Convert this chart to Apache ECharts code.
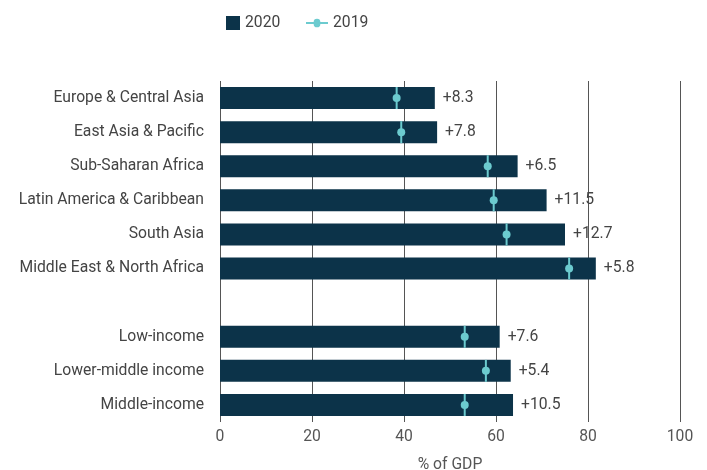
<!DOCTYPE html>
<html>
<head>
<meta charset="utf-8">
<script src="https://cdn.jsdelivr.net/npm/echarts@6/dist/echarts.min.js"></script>
<style>
  html, body { margin: 0; padding: 0; background: #fff; }
  #main { width: 707px; height: 470px; }
</style>
</head>
<body>
<div id="main"></div>
<script>
// 数据
var categories = ['Europe & Central Asia', 'East Asia & Pacific', 'Sub-Saharan Africa', 'Latin America & Caribbean',
    'South Asia', 'Middle East & North Africa', '', 'Low-income', 'Lower-middle income', 'Middle-income'];
var values2020 = [46.7, 47.2, 64.7, 71.0, 75.0, 81.7, null, 60.8, 63.2, 63.7];
var values2019 = [38.4, 39.4, 58.2, 59.5, 62.3, 75.9, null, 53.2, 57.8, 53.2];
var changes = ['+8.3', '+7.8', '+6.5', '+11.5', '+12.7', '+5.8', '', '+7.6', '+5.4', '+10.5'];
var xTicks = [0, 20, 40, 60, 80, 100];

var navy = '#0c3349';
var teal = '#6ccbcf';
var font = 'Roboto';
var fs = 15.7;

var chart = echarts.init(document.getElementById('main'));

var bar2020 = [];
var dots2019 = [];
for (var i = 0; i < values2020.length; i++) {
    bar2020.push(values2020[i] == null ? '-' : values2020[i]);
    if (values2019[i] != null) dots2019.push([values2019[i], i]);
}

chart.setOption({
    animation: false,
    textStyle: { fontFamily: font },
    legend: [{
        left: 221,
        top: 10,
        itemWidth: 14,
        itemHeight: 14,
        textStyle: { fontSize: fs, color: '#444', fontFamily: font },
        data: [{ name: '2020', icon: 'rect' }]
    }, {
        left: 301,
        top: 10,
        itemWidth: 22,
        itemHeight: 14,
        textStyle: { fontSize: fs, color: '#444', fontFamily: font },
        data: [{
            name: '2019',
            icon: 'path://M0,6L8,6A3.5,3.5,0,0,1,15,6L23,6L23,8L15,8A3.5,3.5,0,0,1,8,8L0,8Z',
            itemStyle: { color: teal }
        }]
    }],
    grid: {
        left: 220,
        right: 27,
        top: 81,
        bottom: 48,
        outerBoundsMode: 'none'
    },
    xAxis: {
        type: 'value',
        min: 0,
        max: xTicks[xTicks.length - 1],
        interval: 20,
        name: '% of GDP',
        nameLocation: 'middle',
        nameGap: 35,
        nameTextStyle: { fontSize: fs, color: '#555', fontFamily: font },
        axisLine: { show: false },
        axisTick: { show: false },
        axisLabel: { fontSize: fs, color: '#555', margin: 7, fontFamily: font },
        splitLine: { show: true, lineStyle: { color: '#555', width: 1 } }
    },
    yAxis: {
        type: 'category',
        inverse: true,
        data: categories,
        axisLine: { show: false },
        axisTick: { show: false },
        axisLabel: { fontSize: fs, color: '#444', margin: 16, fontFamily: font }
    },
    series: [{
        name: '2020',
        type: 'bar',
        barWidth: 22,
        itemStyle: { color: navy },
        label: {
            show: true,
            position: 'right',
            distance: 8,
            fontSize: fs,
            color: '#444',
            fontFamily: font,
            formatter: function (p) { return changes[p.dataIndex]; }
        },
        data: bar2020
    }, {
        name: '2019',
        type: 'custom',
        itemStyle: { color: teal },
        encode: { x: 0, y: 1 },
        renderItem: function (params, api) {
            var p = api.coord([api.value(0), api.value(1)]);
            return {
                type: 'group',
                children: [{
                    type: 'line',
                    shape: { x1: p[0], y1: p[1] - 11, x2: p[0], y2: p[1] + 11 },
                    style: { stroke: teal, lineWidth: 2 }
                }, {
                    type: 'circle',
                    shape: { cx: p[0], cy: p[1], r: 4 },
                    style: { fill: teal }
                }]
            };
        },
        data: dots2019,
        z: 3
    }]
});
</script>
</body>
</html>
